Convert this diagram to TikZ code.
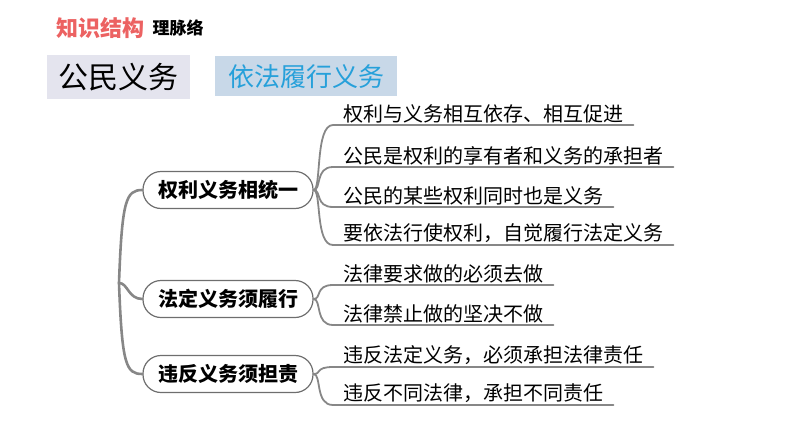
\documentclass[tikz,border=0pt]{standalone}
\usepackage{fontspec}
\usepackage{xcolor}
\usepackage{tikz}
\usetikzlibrary{positioning, calc}
\newfontfamily\cjk{Noto Sans CJK SC}
\definecolor{KSRed}{RGB}{236, 98, 98}
\definecolor{KSBlue}{RGB}{38, 160, 218}
\definecolor{KSGrayBox}{RGB}{228, 228, 238}
\definecolor{KSBlueBox}{RGB}{200, 216, 232}
\definecolor{KSLine}{RGB}{135, 135, 135}
\definecolor{KSBorder}{RGB}{110, 110, 110}
\begin{document}
\begin{tikzpicture}[x=1pt, y=-1pt,
    topicbox/.style={draw=KSBorder, line width=1.2pt, rounded corners=18pt, minimum width=170pt, minimum height=37pt, inner sep=0pt, font=\cjk\bfseries\fontsize{20}{22}\selectfont},
    leaftext/.style={anchor=south west, inner xsep=10pt, inner ysep=2pt, font=\cjk\fontsize{20}{22}\selectfont},
    trunk/.style={draw=KSLine, line width=2.6pt, line cap=round},
    twig/.style={draw=KSLine, line width=1.8pt, line cap=round}]
    \useasboundingbox (0,0) rectangle (794,447);

    % heading
    \node[anchor=west, inner sep=0pt, text=KSRed, font=\cjk\bfseries\fontsize{22}{24}\selectfont] (kstitle) at (56,28) {知识结构};
    \node[right=8pt of kstitle, inner sep=0pt, font=\cjk\bfseries\fontsize{17}{19}\selectfont] (kssub) {理脉络};
    \node[anchor=north west, fill=KSGrayBox, minimum width=143pt, minimum height=44pt, inner sep=0pt, font=\cjk\fontsize{30}{32}\selectfont] (civic) at (47,55) {公民义务};
    \node[anchor=north west, fill=KSBlueBox, minimum width=182pt, minimum height=40pt, inner sep=0pt, text=KSBlue, font=\cjk\fontsize{26}{28}\selectfont] (duty) at (215,56) {依法履行义务};

    % main topics
    \coordinate (root) at (119,283);
    \node[topicbox] (unity) at (228,190) {权利义务相统一};
    \node[topicbox] (fulfil) at (228,299) {法定义务须履行};
    \node[topicbox] (liable) at (228,374) {违反义务须担责};
    \draw[trunk] (root) .. controls (122,200) and (126,190) .. (unity.west);
    \draw[trunk] (root) .. controls (128,283) and (128,299) .. (fulfil.west);
    \draw[trunk] (root) .. controls (122,365) and (126,374) .. (liable.west);

    % leaves
    \node[leaftext] (u1) at (333,125) {权利与义务相互依存、相互促进};
    \node[leaftext] (u2) at (333,167) {公民是权利的享有者和义务的承担者};
    \node[leaftext] (u3) at (333,207) {公民的某些权利同时也是义务};
    \node[leaftext] (u4) at (333,245) {要依法行使权利，自觉履行法定义务};
    \node[leaftext] (f1) at (333,285) {法律要求做的必须去做};
    \node[leaftext] (f2) at (333,325) {法律禁止做的坚决不做};
    \node[leaftext] (l1) at (333,367) {违反法定义务，必须承担法律责任};
    \node[leaftext] (l2) at (333,405) {违反不同法律，承担不同责任};

    \foreach \leaf in {u1,u2,u3,u4}
      \draw[twig] (unity.east) .. controls +(8,0) and +(-18,0) .. (\leaf.south west) -- (\leaf.south east);
    \foreach \leaf in {f1,f2}
      \draw[twig] (fulfil.east) .. controls +(8,0) and +(-18,0) .. (\leaf.south west) -- (\leaf.south east);
    \foreach \leaf in {l1,l2}
      \draw[twig] (liable.east) .. controls +(8,0) and +(-18,0) .. (\leaf.south west) -- (\leaf.south east);
\end{tikzpicture}
\end{document}
